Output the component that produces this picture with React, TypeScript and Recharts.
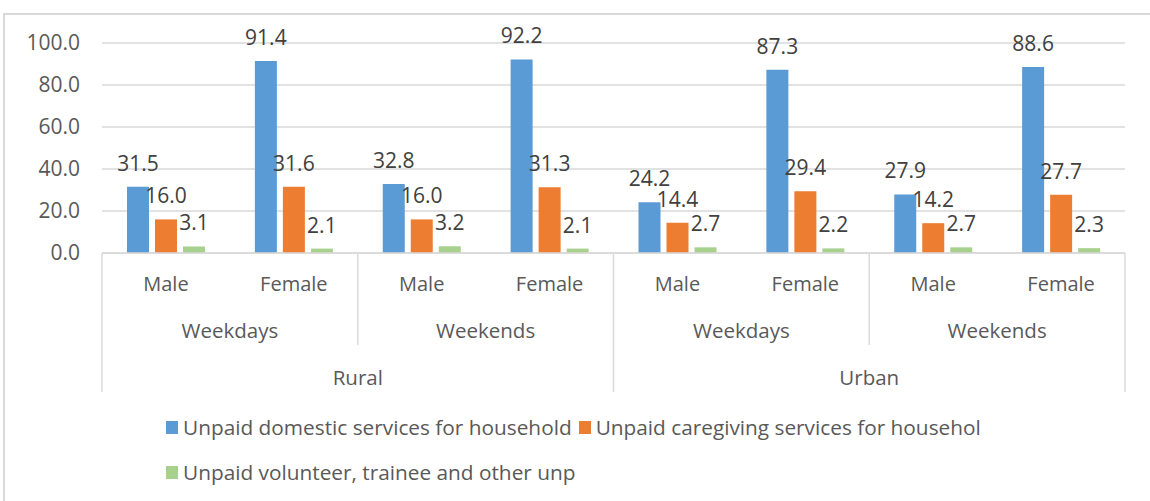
import React from "react";
import { BarChart, Bar, XAxis, YAxis, CartesianGrid, LabelList } from "recharts";

const genders = ["Male", "Female", "Male", "Female", "Male", "Female", "Male", "Female"];
const periods = ["Weekdays", "Weekends", "Weekdays", "Weekends"];
const areas = ["Rural", "Urban"];

const domestic = [31.5, 91.4, 32.8, 92.2, 24.2, 87.3, 27.9, 88.6];
const caregiving = [16.0, 31.6, 16.0, 31.3, 14.4, 29.4, 14.2, 27.7];
const volunteer = [3.1, 2.1, 3.2, 2.1, 2.7, 2.2, 2.7, 2.3];

const yTicks = [0, 20, 40, 60, 80, 100];

const series = [
  { key: "domestic", name: "Unpaid domestic services for household", color: "#5B9BD5" },
  { key: "caregiving", name: "Unpaid caregiving services for househol", color: "#ED7D31" },
  { key: "volunteer", name: "Unpaid volunteer, trainee and other unp", color: "#A9D18E" },
];

const data = genders.map((g, i) => ({
  gender: g,
  domestic: domestic[i],
  caregiving: caregiving[i],
  volunteer: volunteer[i],
}));

const W = 1150;
const H = 501;
const margin = { top: 43, right: 25, left: 2, bottom: 109 };
const yAxisWidth = 100;
const plotWidth = W - margin.left - margin.right - yAxisWidth;
const half = plotWidth / genders.length / 2;
const gridColor = "#d9d9d9";
const textColor = "#595959";

const fmt = (v: any) => Number(v).toFixed(1);

const MultiTick = (props: any) => {
  const { x, y, index } = props;
  const lines: React.ReactNode[] = [];
  if (index % 2 === 0) {
    lines.push(
      <line key="l" x1={x - half} x2={x - half} y1={y} y2={y + (index % 4 === 0 ? 139 : 92)} stroke={gridColor} strokeWidth={1.5} />
    );
  }
  if (index === genders.length - 1) {
    lines.push(<line key="r" x1={x + half} x2={x + half} y1={y} y2={y + 139} stroke={gridColor} strokeWidth={1.5} />);
  }
  return (
    <g>
      {lines}
      <text x={x} y={y + 30} textAnchor="middle" dominantBaseline="central" fill={textColor} fontSize={20}>
        {genders[index]}
      </text>
      {index % 2 === 0 && (
        <text x={x + half} y={y + 77} textAnchor="middle" dominantBaseline="central" fill={textColor} fontSize={20.5}>
          {periods[index / 2]}
        </text>
      )}
      {index % 4 === 0 && (
        <text x={x + half * 3} y={y + 124} textAnchor="middle" dominantBaseline="central" fill={textColor} fontSize={20.5}>
          {areas[index / 4]}
        </text>
      )}
    </g>
  );
};

export default function App() {
  return (
    <div style={{ position: "absolute", left: 0, top: 0, width: W, height: H, overflow: "hidden", fontFamily: "'Open Sans', sans-serif", background: "#fff" }}>
      <div style={{ position: "absolute", left: 3, top: 13, width: W + 20, height: H, border: `2px solid ${gridColor}`, boxSizing: "border-box" }} />
      <div style={{ position: "absolute", left: 0, top: 0 }}>
        <BarChart width={W} height={H} data={data} margin={margin} barSize={22} barGap={6}>
          <CartesianGrid vertical={false} stroke={gridColor} strokeWidth={1.5} />
          <XAxis
            dataKey="gender"
            interval={0}
            height={139}
            tickLine={false}
            tickSize={0}
            tickMargin={0}
            axisLine={{ stroke: gridColor, strokeWidth: 1.5 }}
            tick={<MultiTick />}
          />
          <YAxis
            width={yAxisWidth}
            domain={[0, 100]}
            ticks={yTicks}
            axisLine={false}
            tickLine={false}
            tickSize={0}
            tickMargin={22}
            tickFormatter={fmt}
            tick={{ fill: textColor, fontSize: 21 }}
          />
          {series.map((s) => (
            <Bar key={s.key} dataKey={s.key} name={s.name} fill={s.color} isAnimationActive={false}>
              <LabelList dataKey={s.key} position="top" offset={16} formatter={fmt} fill="#404040" fontSize={21} />
            </Bar>
          ))}
        </BarChart>
      </div>
      <div style={{ position: "absolute", left: 166, top: 414, width: 880, display: "flex", flexWrap: "wrap", columnGap: 7, rowGap: 19 }}>
        {series.map((s) => (
          <div key={s.key} style={{ display: "flex", alignItems: "center", height: 26, color: textColor, fontSize: 20.8, whiteSpace: "nowrap" }}>
            <span style={{ display: "inline-block", width: 12, height: 13, background: s.color, marginRight: 5 }} />
            {s.name}
          </div>
        ))}
      </div>
    </div>
  );
}
